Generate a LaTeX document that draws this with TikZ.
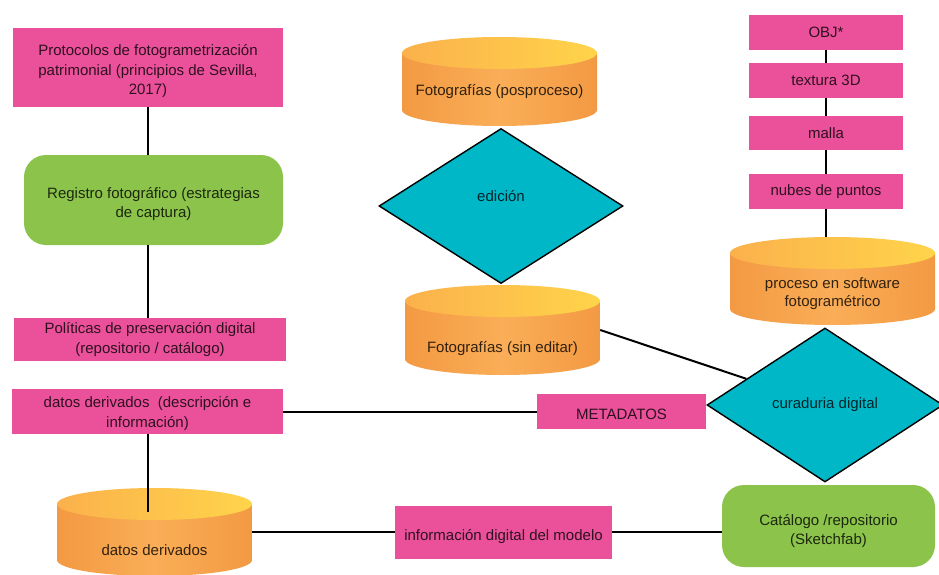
\documentclass[tikz,border=0pt]{standalone}
\usepackage{fontspec}
\setmainfont{Liberation Sans}
\usetikzlibrary{shapes.geometric,calc}
\definecolor{pinkc}{HTML}{EB519B}
\definecolor{greenc}{HTML}{8CC44B}
\definecolor{cyanc}{HTML}{00B7C8}
\definecolor{orD}{HTML}{F39943}
\definecolor{orL}{HTML}{FAAE57}
\definecolor{topL}{HTML}{FFD44A}
\definecolor{topD}{HTML}{FBB14C}
\newcommand{\lowr}[2]{\raisebox{#1}[0pt][0pt]{#2}}
\newcommand{\tx}[2]{\raisebox{#1}[\height][\depth]{\begin{tabular}{@{}c@{}}#2\end{tabular}}}
\begin{document}
\begin{tikzpicture}[x=1pt,y=-1pt,
  every node/.style={font=\fontsize{15}{19.5}\selectfont, text=black, text opacity=0.8, align=center, inner sep=0pt},
  pinkbox/.style 2 args={rectangle, fill=pinkc, minimum width=#1pt, minimum height=#2pt},
  greenbox/.style 2 args={rectangle, rounded corners=22pt, fill=greenc, minimum width=#1pt, minimum height=#2pt},
  dia/.style 2 args={diamond, draw=black, line width=1.4pt, fill=cyanc, minimum width=#1pt, minimum height=#2pt, aspect=1.55},
  cyl/.style 2 args={rectangle, minimum width=#1pt, minimum height=#2pt,
    path picture={
      \shade[left color=orD, right color=orD, middle color=orL]
        ([yshift=-16pt]path picture bounding box.north west) --
        ([yshift=16pt]path picture bounding box.south west)
        arc[start angle=180, end angle=360, x radius=#1*0.5pt, y radius=16pt] --
        ([yshift=-16pt]path picture bounding box.north east) -- cycle;
      \shade[left color=topD, right color=topL]
        ([yshift=-16pt]path picture bounding box.north) ellipse [x radius=#1*0.5pt, y radius=16pt];
    }},
  conn/.style={draw=black, line width=2pt}
]
\useasboundingbox[fill=white] (0,0) rectangle (939,575);

% left column
\node[pinkbox={270}{79}] (prot) at (148,67.5) {\tx{-4pt}{Protocolos de fotogrametrización\\patrimonial (principios de Sevilla,\\2017)}};
\node[greenbox={259}{90}] (reg) at (153.5,200) {\tx{-4pt}{Registro fotográfico (estrategias\\de captura)}};
\node[pinkbox={272}{43}] (pol) at (150,339.5) {Políticas de preservación digital\\(repositorio / catálogo)};
\node[pinkbox={271}{45}] (ddesc) at (147.5,411.5) {\tx{-2pt}{datos derivados\ \ (descripción e\\información)}};
\node[cyl={195}{88}] (dd) at (154.5,532) {\lowr{-23pt}{datos derivados}};
\coordinate (ddtop) at (147.5,512);

% middle column
\node[cyl={195}{89}] (pos) at (499.5,81.5) {\lowr{-14pt}{Fotografías (posproceso)}};
\node[dia={244}{155}] (edi) at (501,206) {\lowr{4.5pt}{edición}};
\node[cyl={195}{90}] (sin) at (502.5,330) {\lowr{-22pt}{Fotografías (sin editar)}};
\node[pinkbox={169}{35}] (meta) at (621.5,411.5) {\tx{-4pt}{METADATOS}};
\node[pinkbox={217}{53}] (info) at (503.5,532) {\tx{-5pt}{información digital del modelo}};

% right column
\node[pinkbox={154}{35}] (obj) at (826,32.5) {\tx{-1.5pt}{OBJ*}};
\node[pinkbox={154}{35}] (tex) at (826,80.5) {textura 3D};
\node[pinkbox={154}{34}] (mal) at (826,133) {malla};
\node[pinkbox={154}{35}] (nub) at (826,191.5) {nubes de puntos};
\node[cyl={205}{88}] (proc) at (832.5,281) {\lowr{-16pt}{\begin{tabular}{@{}c@{}}proceso en software\\[-2pt]fotogramétrico\end{tabular}}};
\node[dia={236}{154}] (cur) at (825,405) {curaduria digital};
\node[greenbox={213}{82}] (cat) at (828.5,526) {\tx{-5pt}{Catálogo /repositorio\\(Sketchfab)}};

% connectors
\draw[conn] (prot.south) -- (prot.south |- reg.north);
\draw[conn] (reg.south -| prot.south) -- (prot.south |- pol.north);
\draw[conn] (ddesc.south) -- (ddtop);
\draw[conn] (ddesc.east) -- (meta.west);
\draw[conn] (dd.east) -- (info.west);
\draw[conn] (info.east) -- (info.east -| cat.west);
\draw[conn] (sin.east) -- (cur);
\draw[conn] (obj.south) -- (tex.north);
\draw[conn] (tex.south) -- (mal.north);
\draw[conn] (mal.south) -- (nub.north);
\draw[conn] (nub.south) -- (nub.south |- proc.north);
\end{tikzpicture}
\end{document}
